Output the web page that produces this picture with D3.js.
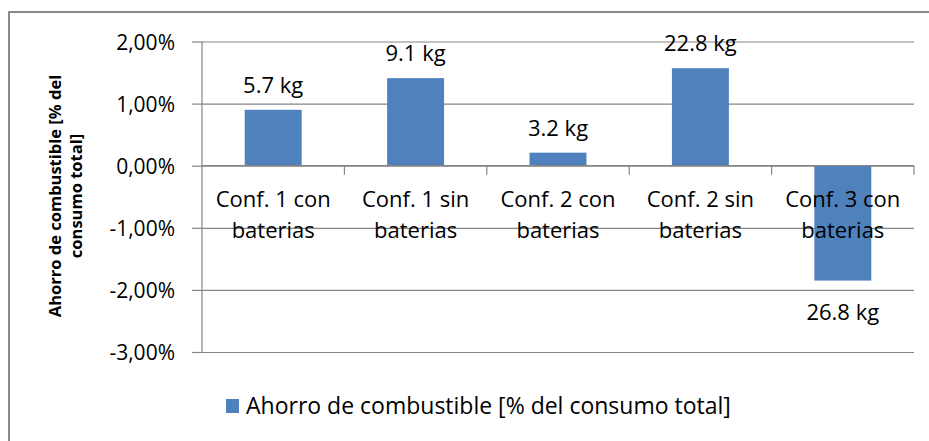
<!DOCTYPE html>
<html>
<head>
<meta charset="UTF-8">
<title>Ahorro de combustible</title>
<script src="https://cdn.jsdelivr.net/npm/d3@7"></script>
<style>
  body{margin:0;background:#fff;}
  text{font-family:"Open Sans", "Liberation Sans", sans-serif;fill:#000;}
</style>
</head>
<body>
<script>
var categories = ["Conf. 1 con baterias", "Conf. 1 sin baterias", "Conf. 2 con baterias", "Conf. 2 sin baterias", "Conf. 3 con baterias"];
var ahorro = [0.90, 1.41, 0.21, 1.57, -1.85];   // % del consumo total
var kgLabels = ["5.7 kg", "9.1 kg", "3.2 kg", "22.8 kg", "26.8 kg"];
var yTicks = [2, 1, 0, -1, -2, -3];

var w = 929, h = 441;
var mLeft = 202, mRight = 914, mTop = 41.5, mBottom = 352;
var fs = 22;

var svg = d3.select("body").append("svg")
  .attr("width", w).attr("height", h);

// borde del grafico
svg.append("path")
  .attr("d", "M9," + h + "V12H" + w)
  .attr("fill", "none").attr("stroke", "#898989").attr("stroke-width", 2);

var x = d3.scaleBand().domain(categories).range([mLeft, mRight]).paddingInner(0.6).paddingOuter(0.3);
var xb = d3.scaleBand().domain(categories).range([mLeft, mRight]);
var y = d3.scaleLinear().domain([-3, 2]).range([mBottom, mTop]);

// lineas de division
var yAxis = d3.axisLeft(y).tickValues(yTicks).tickSize(-(mRight - mLeft)).tickPadding(0)
  .tickFormat(function(d){ return d3.format(".2f")(d).replace(".", ",").replace("\u2212", "-") + "%"; });
var gy = svg.append("g").attr("transform", "translate(" + mLeft + ",0)").call(yAxis);
gy.select(".domain").remove();
gy.selectAll(".tick line").attr("stroke", "#868686").attr("stroke-width", 1.2);
gy.selectAll(".tick").append("line").attr("x1", -10).attr("x2", 0)
  .attr("stroke", "#868686").attr("stroke-width", 1.2);
gy.selectAll(".tick text").attr("x", -27).attr("dy", "0.36em")
  .attr("font-size", 21).attr("font-family", "'Open Sans', sans-serif").attr("fill", "#000");

svg.append("line").attr("x1", mLeft).attr("x2", mLeft).attr("y1", mTop).attr("y2", mBottom)
  .attr("stroke", "#868686").attr("stroke-width", 1.2);

// barras
svg.append("g").selectAll("rect").data(ahorro).enter().append("rect")
  .attr("x", function(d, i){ return x(categories[i]); })
  .attr("width", x.bandwidth())
  .attr("y", function(d){ return y(Math.max(0, d)); })
  .attr("height", function(d){ return Math.abs(y(d) - y(0)); })
  .attr("fill", "#4F81BD");

// eje x en cero
svg.append("line").attr("x1", mLeft).attr("x2", mRight).attr("y1", y(0)).attr("y2", y(0))
  .attr("stroke", "#868686").attr("stroke-width", 1.2);
svg.append("g").selectAll("line").data(categories).enter().append("line")
  .attr("x1", function(d){ return xb(d) + xb.bandwidth(); })
  .attr("x2", function(d){ return xb(d) + xb.bandwidth(); })
  .attr("y1", y(0)).attr("y2", y(0) + 9)
  .attr("stroke", "#868686").attr("stroke-width", 1.2);

// etiquetas de categoria
var cat = svg.append("g").selectAll("text").data(categories).enter().append("text")
  .attr("text-anchor", "middle").attr("font-size", fs)
  .attr("x", function(d){ return xb(d) + xb.bandwidth() / 2; })
  .attr("y", y(0) + 41);
cat.append("tspan").text(function(d){ return d.split(" baterias")[0]; });
cat.append("tspan").attr("x", function(d){ return xb(d) + xb.bandwidth() / 2; })
  .attr("dy", 31).text("baterias");

// etiquetas de datos
svg.append("g").selectAll("text").data(ahorro).enter().append("text")
  .attr("text-anchor", "middle").attr("font-size", fs)
  .attr("x", function(d, i){ return x(categories[i]) + x.bandwidth() / 2; })
  .attr("y", function(d){ return d >= 0 ? y(d) - 17 : y(d) + 39; })
  .text(function(d, i){ return kgLabels[i]; });

// titulo eje y
var yt = svg.append("text").attr("transform", "translate(61,196) rotate(-90)")
  .attr("text-anchor", "middle").attr("font-size", 16.5).attr("font-weight", "bold");
yt.append("tspan").attr("x", 0).text("Ahorro de combustible [% del");
yt.append("tspan").attr("x", 0).attr("dy", 21).text("consumo total]");

// leyenda
svg.append("rect").attr("x", 226).attr("y", 399).attr("width", 13).attr("height", 14).attr("fill", "#4F81BD");
svg.append("text").attr("x", 246).attr("y", 414).attr("font-size", 23)
  .text("Ahorro de combustible [% del consumo total]");
</script>
</body>
</html>
